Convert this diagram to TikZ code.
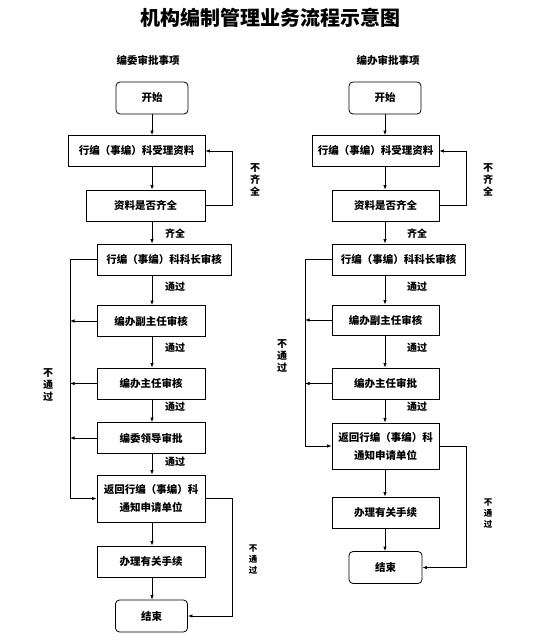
\documentclass[tikz,border=0pt]{standalone}
\usepackage{fontspec}
\setmainfont{Noto Sans CJK SC}
\usetikzlibrary{arrows.meta}

\begin{document}
\begin{tikzpicture}[x=1pt, y=-1pt, line width=0.8pt, >={Latex[length=4.5pt,width=3.5pt]},
    main/.style = {draw, font=\fontsize{10.5}{14}\selectfont\bfseries, minimum height=31pt, inner sep=1pt, align=center},
    term/.style = {main, rounded corners=4pt, minimum width=72pt, minimum height=32pt},
    lab/.style = {font=\fontsize{10}{12}\selectfont\bfseries, align=center, inner sep=0pt},
    small/.style = {lab, font=\fontsize{8.5}{11}\selectfont\bfseries}]
    \useasboundingbox (0,0) rectangle (533,644);

    \node (t) at (270,18) {\fontsize{20}{24}\selectfont\bfseries 机构编制管理业务流程示意图};
    \node[lab] (h1) at (148,60) {\fontsize{10.5}{12}\selectfont 编委审批事项};
    \node[lab] (h2) at (388,60) {\fontsize{10.5}{12}\selectfont 编办审批事项};

    % left column
    \node[term] (1) at (152,98)             {开始};
    \node[main, minimum width=137pt] (2) at (136.5,151) {行编（事编）科受理资料};
    \node[main, minimum width=119pt] (3) at (145.5,205.5) {资料是否齐全};
    \node[main, minimum width=134pt] (4) at (164,259.5) {行编（事编）科科长审核};
    \node[main, minimum width=108pt] (5) at (151,321)   {编办副主任审核};
    \node[main, minimum width=108pt] (6) at (151,383.5) {编办主任审核};
    \node[main, minimum width=108pt] (7) at (151,438)   {编委领导审批};
    \node[main, minimum width=108pt, minimum height=47pt] (8) at (151,498.5) {返回行编（事编）科\\[4pt]通知申请单位};
    \node[main, minimum width=108pt] (9) at (151,561.5) {办理有关手续};
    \node[term] (10) at (151.5,616)        {结束};

    \coordinate (L) at (70,0);
    \coordinate (R) at (232,0);

    \foreach \a/\b in {1/2, 2/3, 3/4, 4/5, 5/6, 6/7, 7/8, 8/9, 9/10}
        \draw[->] (\a.south -| 1) -- (\b.north -| 1);

    \draw[->] (3.east) -- (3.east -| R) -- (2.east -| R) -- (2.east);
    \draw[->] (4.west) -- (4.west -| L) -- (8.west -| L) -- (8.west);
    \foreach \a in {5, 6, 7}
        \draw[->] (\a.west) -- (\a.west -| L);
    \draw[->] (8.east) -- (8.east -| R) -- (10.east -| R) -- (10.east);

    \node[lab] (n1) at (255,180) {不\\齐\\全};
    \node[lab] (q1) at (175,234) {齐全};
    \node[lab] (p1) at (175,287) {通过};
    \node[lab] (p2) at (175,348) {通过};
    \node[lab] (p3) at (175,407) {通过};
    \node[lab] (p4) at (175,462) {通过};
    \node[lab] (n2) at (48,385)  {不\\通\\过};
    \node[small] (n3) at (253,560) {不\\通\\过};

    % right column
    \node[term] (11) at (385,98)             {开始};
    \node[main, minimum width=127pt] (12) at (375.5,151) {行编（事编）科受理资料};
    \node[main, minimum width=107pt] (13) at (385.5,205.5) {资料是否齐全};
    \node[main, minimum width=133pt] (14) at (398.5,259.5) {行编（事编）科科长审核};
    \node[main, minimum width=107pt, minimum height=30pt] (15) at (385.5,320) {编办副主任审核};
    \node[main, minimum width=107pt] (16) at (385.5,383.5) {编办主任审批};
    \node[main, minimum width=107pt, minimum height=46pt] (17) at (385.5,446) {返回行编（事编）科\\[4pt]通知申请单位};
    \node[main, minimum width=107pt] (18) at (385.5,512.5) {办理有关手续};
    \node[term, minimum width=73pt] (19) at (385.5,567.5) {结束};

    \coordinate (L2) at (305,0);
    \coordinate (R2) at (466,0);

    \foreach \a/\b in {11/12, 12/13, 13/14, 14/15, 15/16, 16/17, 17/18, 18/19}
        \draw[->] (\a.south -| 11) -- (\b.north -| 11);

    \draw[->] (13.east) -- (13.east -| R2) -- (12.east -| R2) -- (12.east);
    \draw[->] (14.west) -- (14.west -| L2) -- (17.west -| L2) -- (17.west);
    \foreach \a in {15, 16}
        \draw[->] (\a.west) -- (\a.west -| L2);
    \draw[->] (17.east) -- (17.east -| R2) -- (19.east -| R2) -- (19.east);

    \node[lab] (n11) at (488,180) {不\\齐\\全};
    \node[lab] (q11) at (417,234) {齐全};
    \node[lab] (p11) at (417,287) {通过};
    \node[lab] (p12) at (417,348) {通过};
    \node[lab] (p13) at (417,407) {通过};
    \node[lab] (n12) at (282,356) {不\\通\\过};
    \node[small] (n13) at (488,514) {不\\通\\过};
\end{tikzpicture}
\end{document}
